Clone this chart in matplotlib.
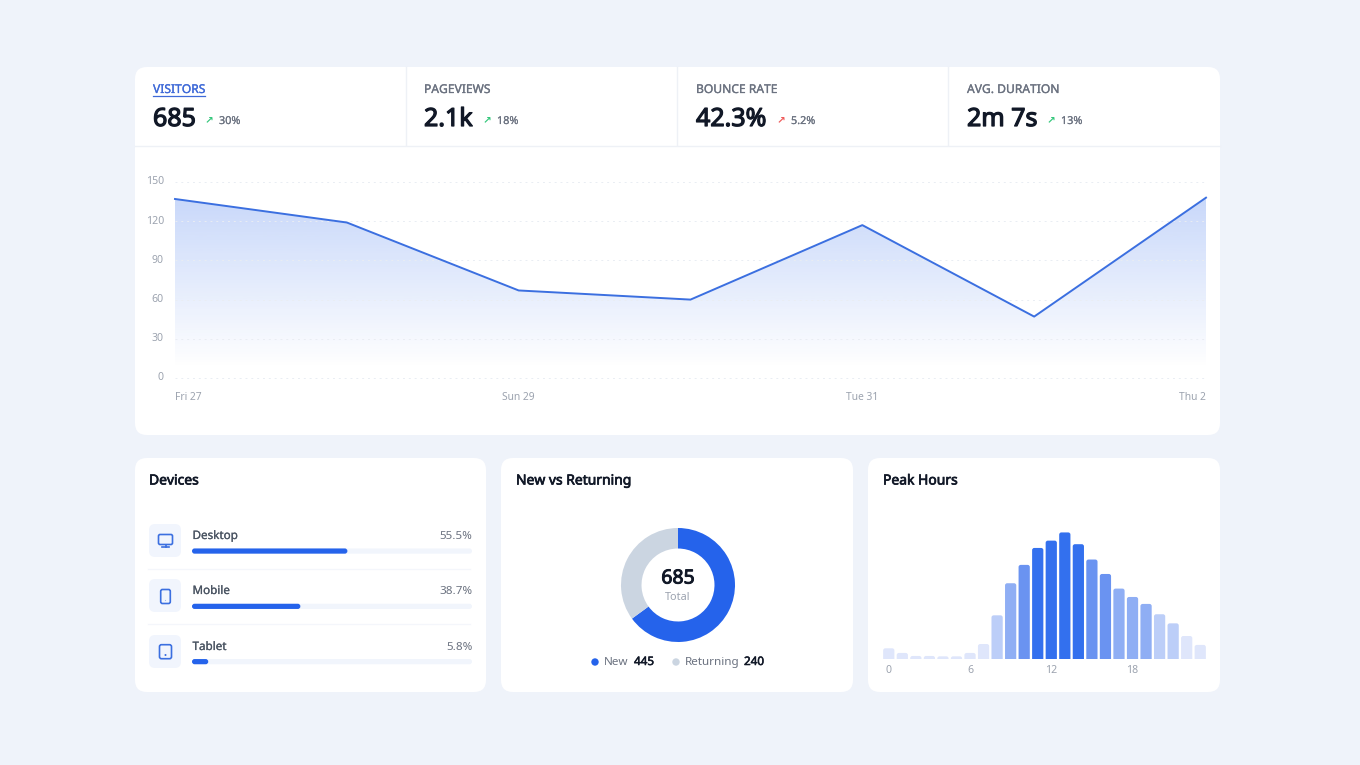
import numpy as np
import matplotlib
matplotlib.use("Agg")
import matplotlib.pyplot as plt
import matplotlib.patheffects as pe
from matplotlib.colors import to_rgb
from matplotlib.patches import Circle, FancyBboxPatch, Polygon

W, H = 1360, 765

# Summary row
stat_labels = ["VISITORS", "PAGEVIEWS", "BOUNCE RATE", "AVG. DURATION"]
stat_values = ["685", "2.1k", "42.3%", "2m 7s"]
stat_deltas = ["30%", "18%", "5.2%", "13%"]
stat_good = [True, True, False, True]

# Visitors per day
days = ["Fri 27", "Sat 28", "Sun 29", "Mon 30", "Tue 31", "Wed 1", "Thu 2"]
visitors = [137, 119, 67, 60, 117, 47, 138]
visitor_ticks = [0, 30, 60, 90, 120, 150]

# Devices
devices = ["Desktop", "Mobile", "Tablet"]
device_share = [55.5, 38.7, 5.8]

# New vs returning
visitor_types = ["New", "Returning"]
visitor_counts = [445, 240]

# Peak hours
hours = list(range(24))
hour_counts = [6.0, 3.4, 1.7, 1.7, 1.5, 1.5, 3.4, 8.4, 24.5, 42.5, 52.8, 62.3,
               66.4, 71.0, 64.4, 55.8, 47.7, 39.5, 34.8, 30.9, 25.1, 20.0, 12.9, 7.9]

BG = "#EFF3FA"
BLUE = "#2563EB"
LINE_BLUE = "#3B6FE0"
DARK = "#111827"
MID = "#4B5563"
GREY = "#6B7280"
LIGHT = "#9CA3AF"
RULE = "#EEF1F6"

plt.rcParams["font.family"] = ["Noto Sans", "DejaVu Sans"]

fig = plt.figure(figsize=(W / 100, H / 100), dpi=100, facecolor=BG)


def px_axes(x0, y0, x1, y1, **kw):
    return fig.add_axes([x0 / W, 1 - y1 / H, (x1 - x0) / W, (y1 - y0) / H], **kw)


def round_box(ax, x0, y0, x1, y1, r, **kw):
    p = FancyBboxPatch((x0, y0), x1 - x0, y1 - y0,
                       boxstyle=f"round,pad=0,rounding_size={r}", linewidth=0, **kw)
    ax.add_patch(p)
    return p


def heavy(text, w=0.2):
    # outline in the text colour, the regular face is the only weight available
    text.set_path_effects([pe.withStroke(linewidth=w, foreground=text.get_color())])
    return text


# Full-size canvas in pixel units for the cards, labels and icons
canvas = px_axes(0, 0, W, H)
canvas.set_xlim(0, W)
canvas.set_ylim(H, 0)
canvas.axis("off")

round_box(canvas, 135, 67, 1220, 435, 12, fc="white")
for x0, x1 in [(135, 486), (501, 853), (868, 1220)]:
    round_box(canvas, x0, 458, x1, 692, 12, fc="white")

# Stat header
canvas.plot([135, 1220], [145.5, 145.5], color=RULE, lw=1)
for x in [406, 677, 948]:
    canvas.plot([x, x], [67, 145], color=RULE, lw=1)

stat_x = [153, 424, 696, 967]
arrow_x = [205, 483, 777, 1047]
delta_x = [219, 497, 791, 1061]
for i in range(4):
    color = "#3F6AD8" if i == 0 else "#6B7280"
    heavy(canvas.text(stat_x[i], 89.5, stat_labels[i], fontsize=8.7, color=color, va="center"))
    heavy(canvas.text(stat_x[i], 126, stat_values[i], fontsize=18, color=DARK, va="baseline"), 0.9)
    canvas.text(arrow_x[i], 120.5, "\u2197", fontsize=7.5, family="DejaVu Sans", va="center",
                color="#34C77B" if stat_good[i] else "#EF5A5A", fontweight="bold")
    heavy(canvas.text(delta_x[i], 121.5, stat_deltas[i], fontsize=7.8, color=GREY, va="center"), 0.12)
canvas.plot([153, 205], [96, 96], color="#3F6AD8", lw=0.9)

# Card titles
for x, title in [(149, "Devices"), (516, "New vs Returning"), (883, "Peak Hours")]:
    heavy(canvas.text(x, 481, title, fontsize=10, color=DARK, va="center"), 0.5)

# Line chart
ax = px_axes(175, 182, 1206, 378)
ax.patch.set_alpha(0)
xs = np.arange(len(days))
top = max(visitors)
grad = np.ones((256, 1, 4))
grad[..., :3] = to_rgb(BLUE)
grad[..., 3] = np.linspace(0.25, 0, 256)[:, None]
img = ax.imshow(grad, extent=[0, len(days) - 1, 8, top], origin="upper", aspect="auto", zorder=1)
shape = Polygon(list(zip(xs, visitors)) + [(xs[-1], 0), (xs[0], 0)], closed=True,
                transform=ax.transData, fc="none", ec="none")
ax.add_patch(shape)
img.set_clip_path(shape)
ax.plot(xs, visitors, color=LINE_BLUE, lw=1.4, zorder=3, clip_on=False, solid_joinstyle="round")
ax.set_xlim(0, len(days) - 1)
ax.set_ylim(0, 150)
ax.set_yticks(visitor_ticks)
ax.set_xticks(xs[::2], days[::2])
ax.tick_params(length=0, labelsize=7.6, labelcolor=LIGHT)
ax.tick_params(axis="y", pad=8)
ax.tick_params(axis="x", pad=10, labelsize=7.4)
labels = ax.get_xticklabels()
labels[0].set_ha("left")
labels[-1].set_ha("right")
for lab in ax.get_yticklabels():
    lab.set_verticalalignment("center")
for spine in ax.spines.values():
    spine.set_visible(False)
for t in visitor_ticks:
    ax.plot([0, len(days) - 1], [t, t], color="#E9EDF3", lw=0.7, linestyle=(0, (2, 4)), zorder=2, clip_on=False)

# Device rows: icon tile, name, share and progress bar
row_top = [524, 579, 635]
for i, name in enumerate(devices):
    y = row_top[i]
    round_box(canvas, 149, y, 181, y + 33, 6, fc="#F1F5FD")
    heavy(canvas.text(192.5, y + 12.5, name, fontsize=8.4, color=MID, va="center"), 0.15)
    canvas.text(472.5, y + 12.5, f"{device_share[i]}%", fontsize=8.4, color=GREY, va="center", ha="right")
for y in [568.5, 624]:
    canvas.plot([148, 470], [y, y], color="#F4F6FB", lw=0.9)

# Monitor
canvas.add_patch(FancyBboxPatch((158.5, 534.5), 14, 10, boxstyle="round,pad=0,rounding_size=1.6",
                                fc="none", ec=LINE_BLUE, lw=1.2))
canvas.plot([165.5, 165.5], [544.5, 547], color=LINE_BLUE, lw=1.2)
canvas.plot([162, 169], [547.2, 547.2], color=LINE_BLUE, lw=1.2)
# Phone
canvas.add_patch(FancyBboxPatch((160.7, 589.5), 9.6, 14, boxstyle="round,pad=0,rounding_size=1.8",
                                fc="none", ec=LINE_BLUE, lw=1.2))
canvas.add_patch(Circle((165.5, 600.5), 0.6, fc="#9DB7EF", ec="none"))
# Tablet
canvas.add_patch(FancyBboxPatch((159.5, 644.7), 12, 14, boxstyle="round,pad=0,rounding_size=2",
                                fc="none", ec=LINE_BLUE, lw=1.2))
canvas.add_patch(Circle((165.5, 655), 1, fc=LINE_BLUE, ec="none"))

# Device progress bars, one unit on x is one percent
bar_ax = px_axes(192, 523.4, 472, 689.3)
bar_ax.patch.set_alpha(0)
bar_ax.set_xlim(0, 100)
bar_ax.set_ylim(len(devices) - 0.5, -0.5)
bar_ax.axis("off")
px_x = 100 / 280
px_y = len(devices) / 165.9
bar_h = 5.2 * px_y
for i, share in enumerate(device_share):
    track = FancyBboxPatch((0, i - bar_h / 2), 100, bar_h, boxstyle=f"round,pad=0,rounding_size={2.6 * px_x}",
                           mutation_aspect=px_y / px_x, fc="#F1F5FC", ec="none")
    fill = FancyBboxPatch((0, i - bar_h / 2), share, bar_h, boxstyle=f"round,pad=0,rounding_size={2.6 * px_x}",
                          mutation_aspect=px_y / px_x, fc=BLUE, ec="none")
    bar_ax.add_patch(track)
    bar_ax.add_patch(fill)

# Donut
pie_ax = px_axes(678 - 57, 585 - 57, 678 + 57, 585 + 57)
pie_ax.pie(visitor_counts, colors=[BLUE, "#CBD5E1"], startangle=90, counterclock=False,
           radius=1, wedgeprops={"width": 0.36, "linewidth": 0})
pie_ax.set_xlim(-1, 1)
pie_ax.set_ylim(-1, 1)
heavy(canvas.text(678, 578.5, str(sum(visitor_counts)), fontsize=14, color=DARK, ha="center", va="center"), 0.7)
canvas.text(678, 597, "Total", fontsize=7.8, color=LIGHT, ha="center", va="center")

canvas.add_patch(Circle((595, 662), 3.7, fc=BLUE, ec="none"))
canvas.add_patch(Circle((676, 662), 3.7, fc="#CBD5E1", ec="none"))
canvas.text(604, 662.5, visitor_types[0], fontsize=8.4, color=GREY, va="center")
heavy(canvas.text(634, 662.5, str(visitor_counts[0]), fontsize=8.4, color=DARK, va="center"), 0.4)
canvas.text(685, 662.5, visitor_types[1], fontsize=8.4, color=GREY, va="center")
heavy(canvas.text(744, 662.5, str(visitor_counts[1]), fontsize=8.4, color=DARK, va="center"), 0.4)

# Peak hours histogram, shaded in five steps by share of the busiest hour
hist = px_axes(882, 525.3, 1207, 659)
hist.patch.set_alpha(0)
hist.set_xlim(-0.5, 23.5)
hist.set_ylim(0, 75)
steps = ["#DFE6FB", "#BCCEF8", "#8FAEF4", "#6A93F1", "#3370EE"]
unit_x = 24 / 325
unit_y = 75 / 133.7
peak = max(hour_counts)
for h, v in zip(hours, hour_counts):
    c = steps[min(int(v / peak * 5), 4)]
    r = 2.2 * unit_x
    # starts below zero so only the top corners show rounded
    hist.add_patch(FancyBboxPatch((h - 0.415, -2), 0.83, v + 2, boxstyle=f"round,pad=0,rounding_size={r}",
                                  mutation_aspect=unit_y / unit_x, fc=c, ec="none", clip_on=True))
hist.set_xticks([0, 6, 12, 18])
hist.set_yticks([])
hist.tick_params(length=0, labelsize=7.6, labelcolor=LIGHT, pad=4)
for spine in hist.spines.values():
    spine.set_visible(False)

fig.savefig("out.png", dpi=100, facecolor=BG)
